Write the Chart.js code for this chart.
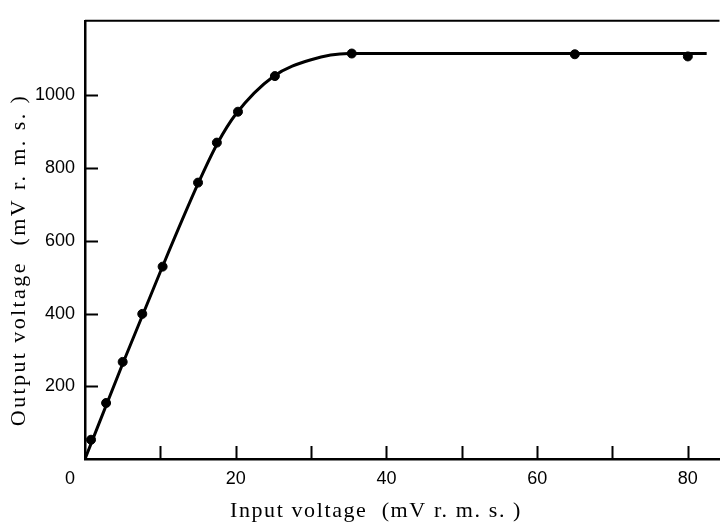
<!DOCTYPE html>
<html>
<head>
<meta charset="utf-8">
<script src="https://cdn.jsdelivr.net/npm/chart.js@4.4.1/dist/chart.umd.min.js"></script>
<style>
  html, body { margin: 0; padding: 0; background: #fff; }
  #wrap { width: 725px; height: 523px; }
</style>
</head>
<body>
<div id="wrap"><canvas id="chart" width="725" height="523"></canvas></div>
<script>
// measured points (input mV, output mV)
const inputPts = [0.8, 2.8, 5, 7.6, 10.3, 15, 17.5, 20.3, 25.2, 35.4, 65, 80];
const outputPts = [53, 154, 267, 399, 529, 760, 870, 955, 1053, 1115, 1113, 1107];

// hand-drawn curve through the points
const curveX = [0, 5, 10, 15, 17.5, 20, 25, 30, 35, 50, 82.5];
const curveY = [0, 262, 515, 757, 865, 948, 1052, 1098, 1115, 1115, 1115];

const xTicks = [0, 10, 20, 30, 40, 50, 60, 70, 80];
const yTicks = [200, 400, 600, 800, 1000];

const TICK_FONT = { family: "'Liberation Sans', Arial, sans-serif", size: 18 };
const TITLE_FONT = "22px 'Liberation Serif', 'DejaVu Serif', serif";

// inward tick marks, top frame line and axis titles
const framePlugin = {
  id: 'frame',
  afterDatasetsDraw(chart){
    const { ctx, chartArea: a, scales: { x, y } } = chart;
    ctx.save();
    ctx.strokeStyle = '#000';
    ctx.lineWidth = 2;
    ctx.beginPath();
    ctx.moveTo(a.left, a.top); ctx.lineTo(a.right, a.top);
    xTicks.filter(v => v > 0).forEach(v => {
      const px = Math.round(x.getPixelForValue(v)) + 0.5;
      ctx.moveTo(px, a.bottom); ctx.lineTo(px, a.bottom - 13);
    });
    yTicks.forEach(v => {
      const py = Math.round(y.getPixelForValue(v)) + 0.5;
      ctx.moveTo(a.left, py); ctx.lineTo(a.left + 13, py);
    });
    ctx.stroke();

    ctx.fillStyle = '#000';
    ctx.font = TITLE_FONT;
    ctx.textAlign = 'center';
    ctx.textBaseline = 'alphabetic';
    ctx.letterSpacing = '1.6px';
    ctx.fillText('Input voltage  (mV r. m. s. )', 376, 517);
    ctx.letterSpacing = '2.4px';
    ctx.translate(25, 260);
    ctx.rotate(-Math.PI / 2);
    ctx.fillText('Output voltage  (mV r. m. s. )', 0, 0);
    ctx.restore();
  }
};

new Chart(document.getElementById('chart').getContext('2d'), {
  type: 'scatter',
  data: {
    datasets: [
      {
        type: 'line',
        data: curveX.map((v, i) => ({ x: v, y: curveY[i] })),
        borderColor: '#000',
        borderWidth: 3,
        pointRadius: 0,
        cubicInterpolationMode: 'monotone',
        fill: false
      },
      {
        data: inputPts.map((v, i) => ({ x: v, y: outputPts[i] })),
        backgroundColor: '#000',
        borderColor: '#000',
        pointRadius: 4.5,
        pointHoverRadius: 4.5
      }
    ]
  },
  options: {
    responsive: false,
    animation: false,
    layout: { padding: { left: 0, top: 7, right: 0, bottom: 0 } },
    plugins: { legend: { display: false }, tooltip: { enabled: false } },
    scales: {
      x: {
        type: 'linear',
        min: 0, max: 84.2,
        grid: { display: false, drawTicks: false },
        border: { display: true, color: '#000', width: 2.5 },
        afterFit: s => { s.height = 64; },
        afterBuildTicks: s => { s.ticks = xTicks.map(v => ({ value: v })); },
        ticks: {
          maxRotation: 0,
          autoSkip: false,
          padding: 9,
          color: '#000',
          font: TICK_FONT,
          callback: v => v === 0 ? '0      ' : (v % 20 === 0 ? String(v) : '')
        }
      },
      y: {
        min: 0, max: 1205,
        grid: { display: false, drawTicks: false },
        border: { display: true, color: '#000', width: 2.5 },
        afterFit: s => { s.width = 85; },
        afterBuildTicks: s => { s.ticks = yTicks.map(v => ({ value: v })); },
        ticks: {
          autoSkip: false,
          padding: 10,
          color: '#000',
          font: TICK_FONT,
          callback: v => String(v)
        }
      }
    }
  },
  plugins: [framePlugin]
});
</script>
</body>
</html>
